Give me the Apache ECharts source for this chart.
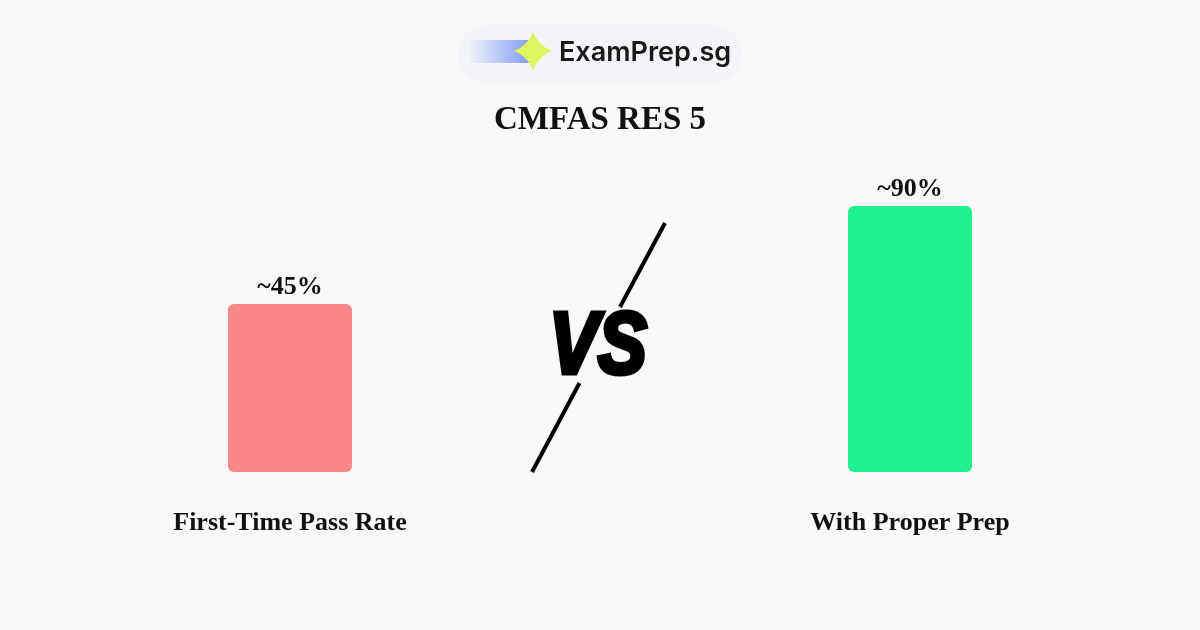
<!DOCTYPE html>
<html>
<head>
<meta charset="utf-8">
<script src="https://cdn.jsdelivr.net/npm/echarts@6/dist/echarts.min.js"></script>
<style>
html,body{margin:0;padding:0;background:#f9f9f9;}
#chart{width:1200px;height:630px;}
</style>
</head>
<body>
<div id="chart"></div>
<script>
var title = 'CMFAS RES 5';
var brand = 'ExamPrep.sg';
var categories = ['First-Time Pass Rate', '', 'With Proper Prep'];
var passRates = [45, null, 90];
var barColors = ['#f88888', '#f88888', '#21f08e'];
var vsText = 'VS';

// decorative 4-point star for the logo
function starPoints(cx, cy, rx, ry, k) {
  var pts = [];
  for (var i = 0; i < 96; i++) {
    var t = i / 96 * Math.PI * 2;
    var c = Math.cos(t), s = Math.sin(t);
    pts.push([cx + rx * Math.sign(c) * Math.pow(Math.abs(c), k),
              cy + ry * Math.sign(s) * Math.pow(Math.abs(s), k)]);
  }
  return pts;
}

var chart = echarts.init(document.getElementById('chart'), null, {renderer: 'canvas'});

var option = {
  backgroundColor: '#f9f9f9',
  animation: false,
  title: {
    text: title,
    left: 'center',
    top: 99,
    textStyle: {fontFamily: 'Liberation Serif', fontWeight: 'bold', fontSize: 33, color: '#111'}
  },
  grid: {left: 135, right: 135, top: 206, bottom: 158},
  xAxis: {
    type: 'category',
    data: categories,
    axisLine: {show: false},
    axisTick: {show: false},
    axisLabel: {
      margin: 38,
      fontFamily: 'Liberation Serif', fontWeight: 'bold', fontSize: 26, color: '#111'
    }
  },
  yAxis: {
    type: 'value',
    min: -32.1,
    max: 90,
    startValue: -32.1,
    show: false,
    splitLine: {show: false}
  },
  series: [{
    type: 'bar',
    data: passRates.map(function (v, i) {
      return {value: v, itemStyle: {color: barColors[i]}};
    }),
    barWidth: 124,
    itemStyle: {borderRadius: 6},
    label: {
      show: true,
      position: 'top',
      distance: 4,
      formatter: function (p) { return '~' + p.value + '%'; },
      fontFamily: 'Liberation Serif', fontWeight: 'bold', fontSize: 26, color: '#111'
    }
  }],
  graphic: [
    {type: 'rect', shape: {x: 458, y: 25, width: 284, height: 58, r: 29},
     style: {fill: '#f4f5f8'}, z: 1},
    {type: 'rect', shape: {x: 470, y: 40, width: 62, height: 23},
     style: {fill: new echarts.graphic.LinearGradient(0, 0, 1, 0, [
       {offset: 0, color: 'rgba(120,150,245,0.05)'},
       {offset: 1, color: 'rgba(120,150,245,0.95)'}
     ])}, z: 2},
    {type: 'polygon', z: 3,
     shape: {points: starPoints(533, 51, 20, 20, 2.8)},
     style: {fill: '#dff65e'}},
    {type: 'text', x: 559, y: 53, z: 3,
     style: {text: brand, fontFamily: 'Inter', fontWeight: 600, fontSize: 27, fill: '#1a1a1a', verticalAlign: 'middle'}},
    {type: 'line', shape: {x1: 665, y1: 223, x2: 620, y2: 307},
     style: {stroke: '#000', lineWidth: 4}},
    {type: 'line', shape: {x1: 579.5, y1: 383, x2: 532, y2: 472},
     style: {stroke: '#000', lineWidth: 4}},
    {type: 'text', x: 598, y: 349, scaleX: 0.84,
     style: {text: vsText, fontFamily: 'Liberation Sans', fontWeight: 'bold', fontStyle: 'italic',
       fontSize: 87, fill: '#000', stroke: '#000', lineWidth: 5,
       align: 'center', verticalAlign: 'middle'}}
  ]
};
chart.setOption(option);
</script>
</body>
</html>
